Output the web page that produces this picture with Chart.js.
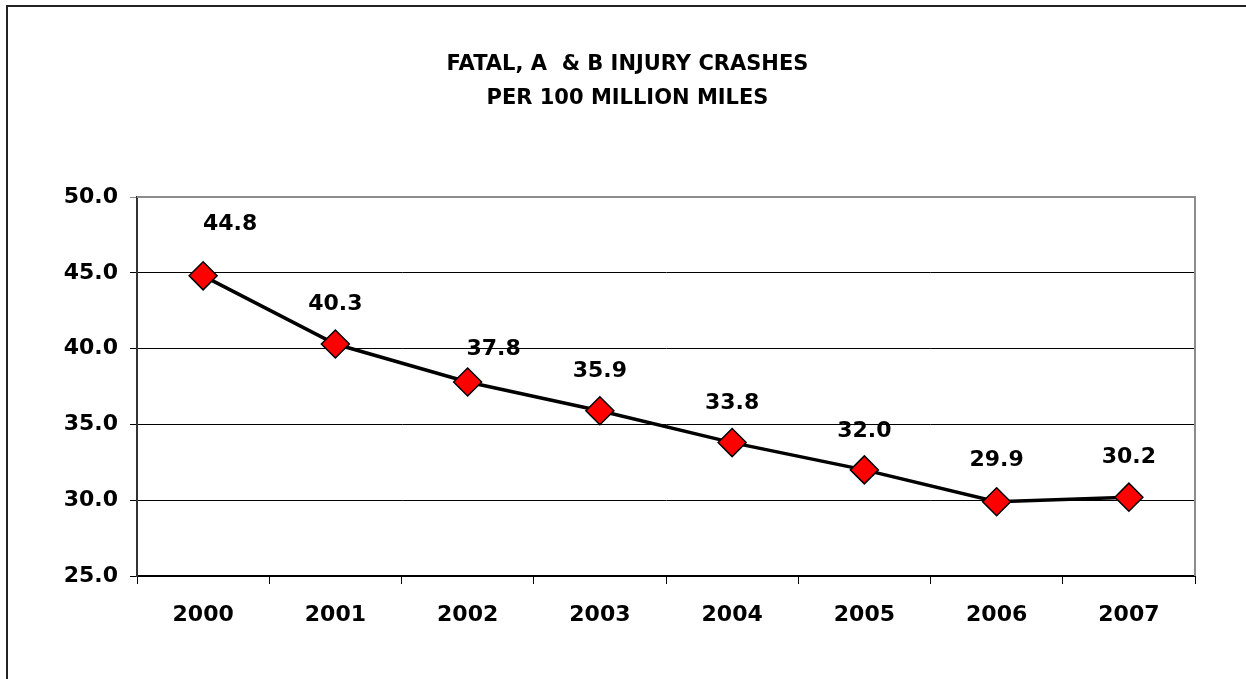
<!DOCTYPE html>
<html>
<head>
<meta charset="utf-8">
<title>Fatal, A & B Injury Crashes</title>
<script src="https://cdn.jsdelivr.net/npm/chart.js@4"></script>
<style>
    body { margin: 0; background: #fff; overflow: hidden; }
    #wrap { position: relative; width: 1246px; height: 679px; }
    #frame {
        position: absolute; left: 6px; top: 5px; width: 1300px; height: 700px;
        border-left: 2px solid #222; border-top: 2px solid #222;
    }
    #myChart { position: absolute; left: 0; top: 0; }
</style>
</head>
<body>
<div id="wrap">
    <div id="frame"></div>
    <canvas id="myChart" width="1246" height="679"></canvas>
</div>
<script>
const years = ['2000', '2001', '2002', '2003', '2004', '2005', '2006', '2007'];
const crashRate = [44.8, 40.3, 37.8, 35.9, 33.8, 32.0, 29.9, 30.2];
const titleLines = ['FATAL, A  & B INJURY CRASHES', 'PER 100 MILLION MILES'];

const chart = document.querySelector('#myChart');
const font = "'DejaVu Sans', sans-serif";

// value labels above the diamonds (a couple were nudged right in the original)
const labelNudge = [[27, -52], [0, -40], [26, -33], [0, -39], [0, -39], [0, -39], [0, -41], [0, -40]];

const valueLabels = {
    id: 'valueLabels',
    afterDatasetsDraw(c) {
        const ctx = c.ctx;
        const meta = c.getDatasetMeta(0);
        ctx.save();
        ctx.font = 'bold 22px ' + font;
        ctx.fillStyle = '#000';
        ctx.textAlign = 'center';
        ctx.textBaseline = 'middle';
        meta.data.forEach((pt, i) => {
            const n = labelNudge[i];
            ctx.fillText(crashRate[i].toFixed(1), pt.x + n[0], pt.y + n[1]);
        });
        ctx.restore();
    }
};

const plotFrame = {
    id: 'plotFrame',
    beforeDatasetsDraw(c) {
        const a = c.chartArea;
        const ctx = c.ctx;
        ctx.save();
        ctx.strokeStyle = '#8c8c8c';
        ctx.lineWidth = 2;
        ctx.beginPath();
        ctx.moveTo(a.left, a.top);
        ctx.lineTo(a.right, a.top);
        ctx.lineTo(a.right, a.bottom);
        ctx.stroke();
        ctx.restore();
    }
};

let myChart = new Chart(chart, {
    type: 'line',
    data: {
        labels: years,
        datasets: [{
            data: crashRate,
            borderColor: '#000',
            borderWidth: 3.5,
            tension: 0,
            pointStyle: 'rectRot',
            pointRadius: 14,
            pointHoverRadius: 14,
            pointBackgroundColor: '#ff0000',
            pointBorderColor: '#000',
            pointBorderWidth: 1.5
        }]
    },
    options: {
        responsive: false,
        animation: false,
        events: [],
        layout: {
            padding: { left: 60, right: 51, top: 0, bottom: 0 }
        },
        plugins: {
            legend: { display: false },
            tooltip: { enabled: false },
            title: {
                display: true,
                text: titleLines,
                color: '#000',
                font: { family: font, size: 21, weight: 'bold', lineHeight: 34 / 21 },
                padding: { top: 48, bottom: 81 }
            }
        },
        scales: {
            x: {
                offset: true,
                afterFit: (s) => { s.height = 103; },
                grid: {
                    offset: true,
                    drawOnChartArea: false,
                    tickLength: 8,
                    color: '#000'
                },
                border: { color: '#000', width: 2 },
                ticks: {
                    color: '#000',
                    padding: 18,
                    font: { family: font, size: 22, weight: 'bold' }
                }
            },
            y: {
                min: 25,
                max: 50,
                afterFit: (s) => { s.width = 77; },
                grid: {
                    tickLength: 7,
                    color: (ctx) => ctx.tick && ctx.tick.value === 50 ? '#8c8c8c' : '#000',
                    lineWidth: 1
                },
                border: { color: '#333', width: 2 },
                ticks: {
                    stepSize: 5,
                    color: '#000',
                    padding: 12,
                    font: { family: font, size: 22, weight: 'bold' },
                    callback: (v) => Number(v).toFixed(1)
                }
            }
        }
    },
    plugins: [plotFrame, valueLabels]
});
</script>
</body>
</html>
